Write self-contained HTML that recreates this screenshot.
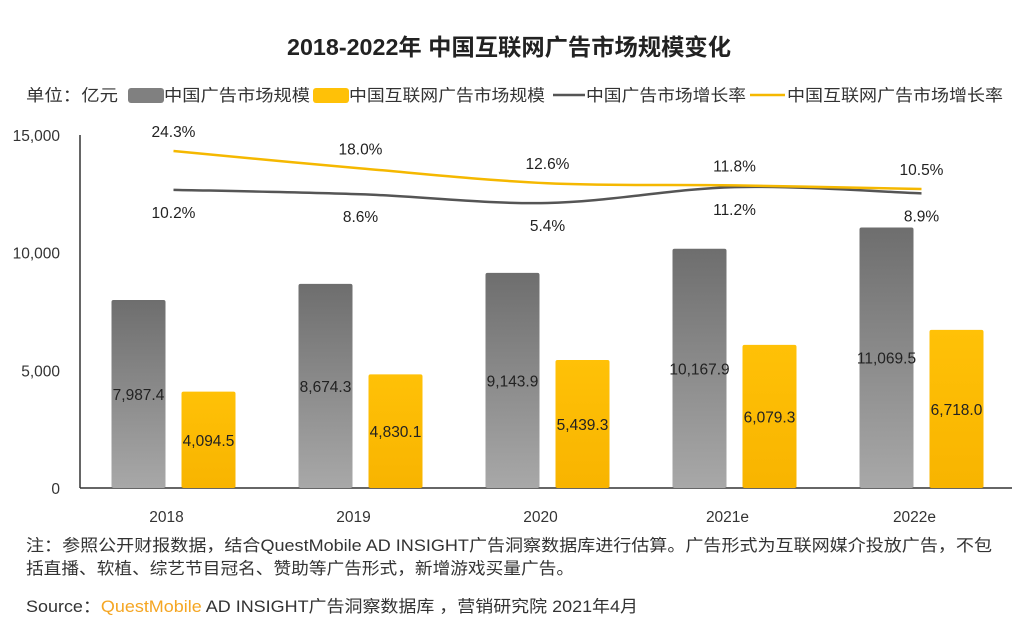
<!DOCTYPE html>
<html><head><meta charset="utf-8"><style>
body{margin:0;background:#fff;width:1019px;height:625px;overflow:hidden;font-family:"Liberation Sans","Noto Sans CJK SC",sans-serif;}
</style></head><body>
<svg width="1019" height="625" xmlns="http://www.w3.org/2000/svg">
<defs>
<linearGradient id="gg" x1="0" y1="0" x2="0" y2="1"><stop offset="0" stop-color="#6e6e6e"/><stop offset="1" stop-color="#a8a8a8"/></linearGradient>
<linearGradient id="yg" x1="0" y1="0" x2="0" y2="1"><stop offset="0" stop-color="#ffc107"/><stop offset="1" stop-color="#f8b400"/></linearGradient>
</defs>
<text x="287" y="55" textLength="444" lengthAdjust="spacingAndGlyphs" font-size="23" font-weight="bold" fill="#222">2018-2022年 中国互联网广告市场规模变化</text>
<g font-size="16.5" fill="#333">
<text x="26" y="101" textLength="92" lengthAdjust="spacingAndGlyphs">单位：亿元</text>
<rect x="128" y="88" width="36" height="15" rx="3" fill="#808080"/>
<text x="164" y="101" textLength="146" lengthAdjust="spacingAndGlyphs">中国广告市场规模</text>
<rect x="313" y="88" width="36" height="15" rx="3" fill="#ffc107"/>
<text x="349" y="101" textLength="196" lengthAdjust="spacingAndGlyphs">中国互联网广告市场规模</text>
<line x1="553" y1="95" x2="585" y2="95" stroke="#555" stroke-width="2.5"/>
<text x="586" y="101" textLength="160" lengthAdjust="spacingAndGlyphs">中国广告市场增长率</text>
<line x1="750" y1="95" x2="785" y2="95" stroke="#f5b800" stroke-width="2.5"/>
<text x="787" y="101" textLength="216" lengthAdjust="spacingAndGlyphs">中国互联网广告市场增长率</text>
</g>
<g id="plot"></g>
<g font-size="16.5" fill="#333">
<text x="26" y="551" textLength="966" lengthAdjust="spacingAndGlyphs">注：参照公开财报数据，结合QuestMobile AD INSIGHT广告洞察数据库进行估算。广告形式为互联网媒介投放广告，不包</text>
<text x="26" y="574" textLength="548" lengthAdjust="spacingAndGlyphs">括直播、软植、综艺节目冠名、赞助等广告形式，新增游戏买量广告。</text>
<text x="26" y="612" textLength="612" lengthAdjust="spacingAndGlyphs">Source：<tspan fill="#f5a623">QuestMobile</tspan> AD INSIGHT广告洞察数据库 ，营销研究院 2021年4月</text>
</g>
</svg>
<script>
const categories=["2018","2019","2020","2021e","2022e"];
const totalMarket=[7987.4,8674.3,9143.9,10167.9,11069.5];
const internetMarket=[4094.5,4830.1,5439.3,6079.3,6718.0];
const totalGrowth=[10.2,8.6,5.4,11.2,8.9];
const internetGrowth=[24.3,18.0,12.6,11.8,10.5];
const yTicks=[0,5000,10000,15000];
const NS="http://www.w3.org/2000/svg";
const g=document.getElementById('plot');
const x0=80,bw=187,yb=488;
const ys=v=>yb-v*(353/15000);
const yr=v=>189-(v-10.5)*2.75;
const cx=i=>x0+bw*(i+0.5);
function mk(t,a,p){const e=document.createElementNS(NS,t);for(const k in a)e.setAttribute(k,a[k]);(p||g).appendChild(e);return e;}
const fmt=v=>v.toLocaleString('en-US',{minimumFractionDigits:1,maximumFractionDigits:1});
yTicks.forEach(t=>{const e=mk('text',{x:60,y:ys(t)+6,'text-anchor':'end','font-size':15.5,fill:'#333'});e.textContent=t.toLocaleString('en-US');

});
let ax=mk('line',{x1:x0,y1:135,x2:x0,y2:yb,stroke:'#333','stroke-width':1.5});


let bx=mk('line',{x1:x0,y1:yb,x2:1012,y2:yb,stroke:'#333','stroke-width':1.5});


categories.forEach((c,i)=>{
 const c0=cx(i);
 const r1=mk('rect',{x:c0-62,y:ys(totalMarket[i]),width:54,height:yb-ys(totalMarket[i]),fill:'url(#gg)',rx:2});
 
 
 const r2=mk('rect',{x:c0+8,y:ys(internetMarket[i]),width:54,height:yb-ys(internetMarket[i]),fill:'url(#yg)',rx:2});
 
 
 let t=mk('text',{x:c0-35,y:ys(totalMarket[i]/2)+6,'text-anchor':'middle','font-size':15.5,fill:'#222'});t.textContent=fmt(totalMarket[i]);
 
 
 t=mk('text',{x:c0+35,y:ys(internetMarket[i]/2)+6,'text-anchor':'middle','font-size':15.5,fill:'#222'});t.textContent=fmt(internetMarket[i]);
 
 
 t=mk('text',{x:c0-7,y:522,'text-anchor':'middle','font-size':15.5,fill:'#333'});t.textContent=c;
 
 
 t=mk('text',{x:c0,y:yr(internetGrowth[i])-14,'text-anchor':'middle','font-size':15.5,fill:'#222'});t.textContent=internetGrowth[i].toFixed(1)+'%';
 
 
 t=mk('text',{x:c0,y:yr(totalGrowth[i])+28,'text-anchor':'middle','font-size':15.5,fill:'#222'});t.textContent=totalGrowth[i].toFixed(1)+'%';
 
 
});
function smooth(arr){const p=arr.map((v,i)=>[cx(i),yr(v)]);let d='M'+p[0][0]+','+p[0][1];
for(let i=0;i<p.length-1;i++){const a=p[i-1]||p[i],b=p[i],c=p[i+1],e=p[i+2]||c;
d+=` C${b[0]+(c[0]-a[0])/6},${b[1]+(c[1]-a[1])/6} ${c[0]-(e[0]-b[0])/6},${c[1]-(e[1]-b[1])/6} ${c[0]},${c[1]}`;}return d;}
let l1=mk('path',{d:smooth(totalGrowth),fill:'none',stroke:'#555','stroke-width':2.5});


let l2=mk('path',{d:smooth(internetGrowth),fill:'none',stroke:'#f5b800','stroke-width':2.5});


</script>
</body></html>
